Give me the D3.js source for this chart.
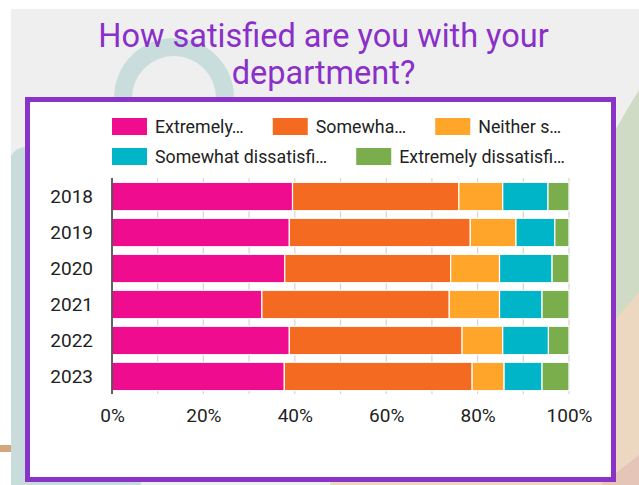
<!DOCTYPE html>
<html>
<head>
<meta charset="utf-8">
<script src="https://cdn.jsdelivr.net/npm/d3@7"></script>
<style>
  html, body { margin: 0; padding: 0; background: #ffffff; }
  svg { display: block; font-family: Roboto, "Noto Sans", Arial, sans-serif; }
</style>
</head>
<body>
<svg id="chart" width="639" height="485"></svg>
<script>
// Survey answers per year, as percentages of respondents
const years = ["2018", "2019", "2020", "2021", "2022", "2023"];
const seriesNames = [
  "Extremely satisfied",
  "Somewhat satisfied",
  "Neither satisfied nor dissatisfied",
  "Somewhat dissatisfied",
  "Extremely dissatisfied"
];
const legendLabels = [
  "Extremely…",
  "Somewha…",
  "Neither s…",
  "Somewhat dissatisfi…",
  "Extremely dissatisfi…"
];
const extremelySatisfied    = [39.5, 38.8, 37.8, 32.8, 38.8, 37.7];
const somewhatSatisfied     = [36.4, 39.6, 36.3, 41.0, 37.8, 41.1];
const neitherNor            = [9.6, 10.0, 10.7, 11.0, 8.9, 7.0];
const somewhatDissatisfied  = [9.9, 8.5, 11.5, 9.3, 10.0, 8.3];
const extremelyDissatisfied = [4.6, 3.1, 3.7, 5.9, 4.5, 5.9];
const tickValues = [0, 0.2, 0.4, 0.6, 0.8, 1];
const tickLabels = ["0%", "20%", "40%", "60%", "80%", "100%"];
const colors = ["#ef0c8f", "#f56a21", "#ffa62a", "#00b5c7", "#7aad4b"];

const seriesValues = [extremelySatisfied, somewhatSatisfied, neitherNor,
                      somewhatDissatisfied, extremelyDissatisfied];
const rows = years.map((y, i) => {
  const r = { year: y };
  seriesNames.forEach((s, k) => { r[s] = seriesValues[k][i]; });
  return r;
});

const svg = d3.select("#chart");

// ---- slide backdrop ----
const bg = svg.append("g");
bg.append("rect").attr("x", 11).attr("y", 9).attr("width", 628).attr("height", 476).attr("fill", "#efefef");
// pale arch behind the heading
const arc = d3.arc().innerRadius(42).outerRadius(60).startAngle(-Math.PI / 2).endAngle(Math.PI / 2);
bg.append("path").attr("d", arc()).attr("transform", "translate(174,98)").attr("fill", "#c9dddc");
bg.append("rect").attr("x", 114).attr("y", 97).attr("width", 18).attr("height", 10).attr("fill", "#c9dddc");
bg.append("rect").attr("x", 216).attr("y", 97).attr("width", 18).attr("height", 10).attr("fill", "#c9dddc");
// left band
bg.append("path").attr("d", "M11,156 Q16,146 30,147 L30,485 L11,485 Z").attr("fill", "#c8dcdb");
bg.append("path").attr("d", "M11,470 L150,470 L140,485 L11,485 Z").attr("fill", "#c8dcdb");
// right-hand shapes
bg.append("path").attr("d", "M610,140 Q625,112 639,90 L639,296 L610,326 Z").attr("fill", "#d0dbc5");
bg.append("path").attr("d", "M610,326 L639,292 L639,485 L330,485 L330,470 L610,470 Z").attr("fill", "#ecd8c0");
bg.append("path").attr("d", "M600,485 Q620,470 639,455 L639,485 Z").attr("fill", "#e6c5b9");
// tan accent at the margin
bg.append("rect").attr("x", 0).attr("y", 445).attr("width", 11).attr("height", 7).attr("fill", "#d3a77b");

// ---- heading ----
const title = svg.append("text")
  .attr("x", 323.5).attr("text-anchor", "middle")
  .attr("fill", "#8a2fc9").style("font-size", "32.5px");
title.append("tspan").attr("x", 323.5).attr("y", 47).text("How satisfied are you with your");
title.append("tspan").attr("x", 323.5).attr("y", 84).text("department?");

// ---- chart card ----
svg.append("rect").attr("x", 27.5).attr("y", 99.5).attr("width", 586).attr("height", 380)
  .attr("fill", "#ffffff").attr("stroke", "#8a33c9").attr("stroke-width", 5);

// ---- scales ----
const x = d3.scaleLinear().domain([0, 1]).range([112, 569]);
const y = d3.scaleBand().domain(years).range([178, 395]).paddingInner(0.21).paddingOuter(0.12);

// gridlines every 10%
const g = svg.append("g");
g.selectAll("line.grid").data(d3.range(0, 11).map(d => d / 10)).join("line")
  .attr("class", "grid")
  .attr("x1", d => x(d)).attr("x2", d => x(d))
  .attr("y1", 178).attr("y2", 394)
  .attr("stroke", "#d4d4d4").attr("stroke-width", 1.2);

// stacked bars
const stack = d3.stack().keys(seriesNames).offset(d3.stackOffsetExpand);
const stacked = stack(rows);
g.selectAll("g.series").data(stacked).join("g")
  .attr("class", "series")
  .attr("fill", (d, i) => colors[i])
  .selectAll("rect").data(d => d).join("rect")
  .attr("x", d => x(d[0]))
  .attr("width", d => x(d[1]) - x(d[0]))
  .attr("y", d => y(d.data.year))
  .attr("height", y.bandwidth())
  .attr("stroke", "#ffffff").attr("stroke-width", 1.2);

// baseline axis at 0%
g.append("line").attr("x1", x(0)).attr("x2", x(0)).attr("y1", 178).attr("y2", 394)
  .attr("stroke", "#333333").attr("stroke-width", 1.5);

// bottom tick labels
const xAxis = d3.axisBottom(x).tickValues(tickValues)
  .tickFormat((d, i) => tickLabels[i]).tickSize(0).tickPadding(0);
const xa = svg.append("g").attr("transform", "translate(0,422)").call(xAxis);
xa.select(".domain").remove();
xa.selectAll("text").attr("dy", 0).attr("fill", "#222222")
  .style("font-size", "19px").style("font-family", "Roboto, sans-serif");

// year labels
const yAxis = d3.axisLeft(y).tickSize(0).tickPadding(0);
const ya = svg.append("g").attr("transform", "translate(93,0)").call(yAxis);
ya.select(".domain").remove();
ya.selectAll("text").attr("fill", "#222222")
  .style("font-size", "19px").style("font-family", "Roboto, sans-serif");

// ---- legend ----
const legendRows = [[0, 1, 2], [3, 4]];
const rowTops = [118, 148];
const leg = svg.append("g");
legendRows.forEach((items, r) => {
  let cx = 112;
  items.forEach(k => {
    const item = leg.append("g");
    item.append("rect").attr("x", cx).attr("y", rowTops[r]).attr("width", 35).attr("height", 17)
      .attr("fill", colors[k]);
    const t = item.append("text").attr("x", cx + 43).attr("y", rowTops[r] + 14.5)
      .attr("fill", "#222222").style("font-size", "17.8px").text(legendLabels[k]);
    cx += 43 + t.node().getComputedTextLength() + 29;
  });
});
</script>
</body>
</html>
